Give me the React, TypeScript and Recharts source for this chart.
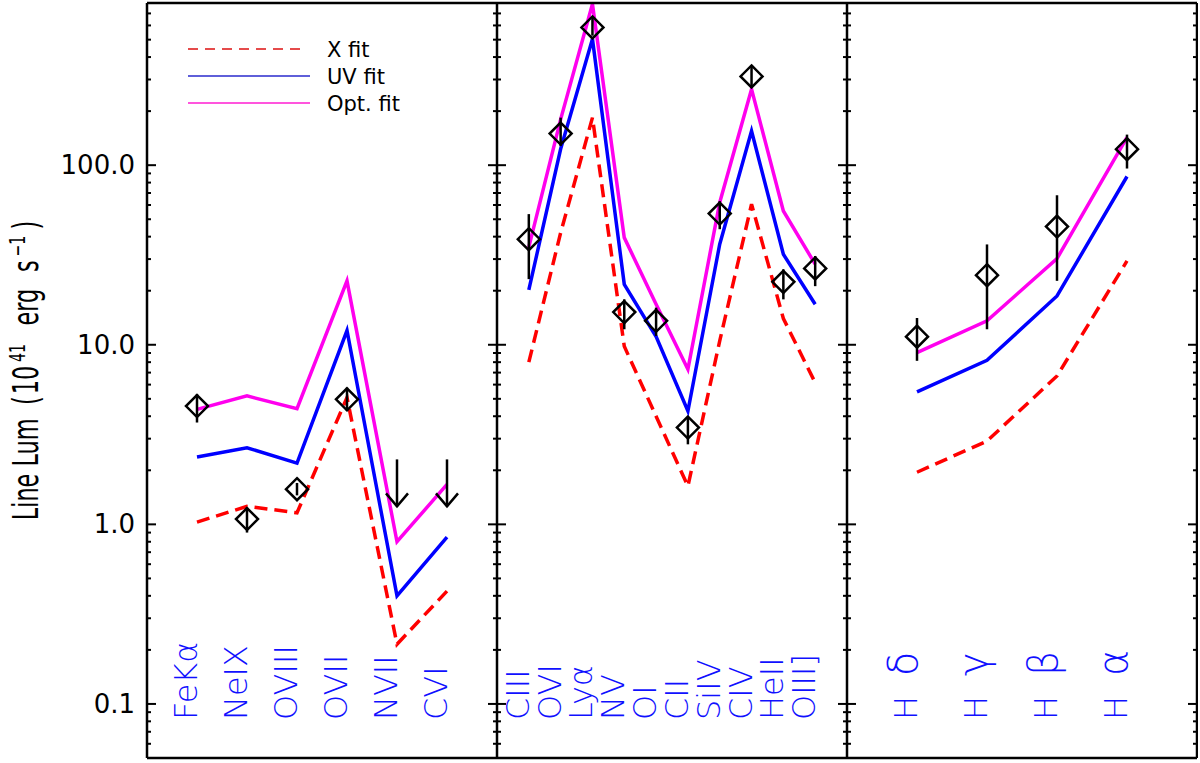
import React from 'react';
import { ComposedChart, Line, XAxis, YAxis, ErrorBar, Legend } from 'recharts';

// y axis (log), shared by the three panels
const yDomain = [0.05, 800];
const yTickValues = [
  0.06, 0.07, 0.08, 0.09,
  0.1, 0.2, 0.3, 0.4, 0.5, 0.6, 0.7, 0.8, 0.9,
  1, 2, 3, 4, 5, 6, 7, 8, 9,
  10, 20, 30, 40, 50, 60, 70, 80, 90,
  100, 200, 300, 400, 500, 600, 700,
];
const majorTicks = [0.1, 1, 10, 100];
const majorLabels = ['0.1', '1.0', '10.0', '100.0'];

// panel 1: X-ray lines
const xrayLabels = ['FeKα', 'NeIX', 'OVIII', 'OVII', 'NVII', 'CVI'];
const xrayXFit = [1.03, 1.26, 1.16, 5.08, 0.215, 0.425];
const xrayUVFit = [2.37, 2.67, 2.19, 12.0, 0.40, 0.85];
const xrayOptFit = [4.37, 5.19, 4.41, 22.7, 0.80, 1.67];
const xrayObs = [4.56, 1.07, 1.57, 4.97, 2.3, 2.3];
const xrayLo = [3.69, 0.9, 1.45, 4.28, 2.3, 2.3];
const xrayHi = [5.3, 1.24, 1.7, 5.77, 2.3, 2.3];
const xrayLimit = [false, false, false, false, true, true];

// panel 2: UV lines
const uvLabels = ['CIII', 'OVI', 'Lyα', 'NV', 'OI', 'CII', 'SiIV', 'CIV', 'HeII', 'OIII]'];
const uvXFit = [8.0, 42, 184, 9.8, 4.0, 1.63, 10.5, 60.6, 14, 6.15];
const uvUVFit = [20.2, 123, 504, 21.7, 11.1, 4.28, 36.3, 155, 31.9, 16.8];
const uvOptFit = [35, 180, 790, 39.5, 16.8, 7.3, 62, 265, 55.6, 28.1];
const uvObs = [38.7, 150, 585, 15.2, 13.6, 3.46, 53.8, 312, 22.4, 26.6];
const uvLo = [23.2, 128, 526, 12.2, 11.2, 2.79, 44, 270, 17.9, 21.2];
const uvHi = [53.4, 184, 670, 17.9, 16.1, 3.93, 63, 358, 26.3, 31.2];
const uvLimit = [false, false, false, false, false, false, false, false, false, false];

// panel 3: Balmer lines
const balmerLabels = ['H δ', 'H γ', 'H β', 'H α'];
const balmerXFit = [1.95, 2.91, 6.7, 29.3];
const balmerUVFit = [5.46, 8.2, 18.7, 86.5];
const balmerOptFit = [9.04, 13.6, 30.2, 142.7];
const balmerObs = [11.1, 24.4, 45.5, 122.8];
const balmerLo = [8.14, 12.2, 22.7, 95.8];
const balmerHi = [14.1, 36.2, 68, 148];
const balmerLimit = [false, false, false, false];

const RED = '#ff0000';
const BLUE = '#0000ff';
const MAGENTA = '#ff00ee';

function buildRows(names, xfit, uvfit, optfit, obs, lo, hi, limit) {
  return names.map((name, k) => ({
    i: k + 1,
    name,
    xfit: xfit[k],
    uvfit: uvfit[k],
    optfit: optfit[k],
    obs: obs[k],
    err: [obs[k] - lo[k], hi[k] - obs[k]],
    limit: limit[k],
  }));
}

const majorIndex = (v) => majorTicks.findIndex((m) => Math.abs(m - v) / m < 1e-6);

const makeYTick = (side, withLabel) => (props) => {
  const { x, y, payload } = props;
  const mi = majorIndex(payload.value);
  const len = mi >= 0 ? 9 : 4;
  const x2 = side === 'left' ? x + len : x - len;
  return (
    <g>
      <line x1={x} x2={x2} y1={y} y2={y} stroke="#000" strokeWidth={2} />
      {withLabel && mi >= 0 && (
        <text x={x - 12} y={y + 9} textAnchor="end" fontFamily="DejaVu Sans" fontSize={26} fill="#000">
          {majorLabels[mi]}
        </text>
      )}
    </g>
  );
};

const makeLabelTick = (names) => (props) => {
  const { x, y, payload } = props;
  const name = names[payload.value - 1];
  if (!name) return null;
  const parts = name.split(' ');
  return (
    <text
      transform={`translate(${x},${y - 38}) rotate(-90)`}
      textAnchor="start"
      fontFamily="DejaVu Sans"
      fontWeight={200}
      fontSize={32}
      fill="#1010ff"
    >
      {parts[0]}
      {parts[1] && (
        <tspan dx={20} fontSize={40}>
          {parts[1]}
        </tspan>
      )}
    </text>
  );
};

const ObsMarker = (props) => {
  const { cx, cy, payload } = props;
  if (cx == null || cy == null) return null;
  if (payload.limit) {
    return (
      <g stroke="#000" strokeWidth={2.5} fill="none">
        <line x1={cx} x2={cx} y1={cy} y2={cy + 47} />
        <polyline points={`${cx - 11},${cy + 34} ${cx},${cy + 47} ${cx + 11},${cy + 34}`} />
      </g>
    );
  }
  const r = 11;
  return (
    <polygon
      points={`${cx},${cy - r} ${cx + r},${cy} ${cx},${cy + r} ${cx - r},${cy}`}
      fill="none"
      stroke="#000"
      strokeWidth={2.5}
    />
  );
};

const renderTitle = (props) => {
  const vb = props.viewBox || { x: 0, y: 2, width: 147, height: 756 };
  const cx = vb.x + 38;
  const cy = vb.y + vb.height / 2 - 10;
  return (
    <text
      transform={`translate(${cx},${cy}) rotate(-90) scale(0.64,1)`}
      textAnchor="middle"
      fontFamily="DejaVu Sans"
      fontSize={35}
      fill="#000"
    >
      Line Lum
      <tspan dx={21}>(</tspan>
      <tspan dx={3}>10</tspan>
      <tspan dy={-13} dx={6} fontSize={22}>41</tspan>
      <tspan dy={13} dx={29}>erg</tspan>
      <tspan dx={26}>s</tspan>
      <tspan dy={-13} dx={6} fontSize={22}>−1</tspan>
      <tspan dy={13} dx={10}>)</tspan>
    </text>
  );
};

const LegendBox = () => (
  <svg width={230} height={90}>
    <line x1={8} x2={125} y1={14} y2={14} stroke="#dd1111" strokeWidth={1.4} strokeDasharray="10 7" />
    <line x1={8} x2={130} y1={41} y2={41} stroke="#2a2acc" strokeWidth={1.6} />
    <line x1={8} x2={130} y1={68} y2={68} stroke="#ff55dd" strokeWidth={2.2} />
    <g fontFamily="DejaVu Sans" fontSize={21} fill="#000" style={{ whiteSpace: 'pre' }}>
      <text x={147} y={22}>{'X  fit'}</text>
      <text x={147} y={49}>{'UV  fit'}</text>
      <text x={147} y={76}>{'Opt.  fit'}</text>
    </g>
  </svg>
);

// each panel: axes of size 1 so that recharts draws their frame lines
function Panel({ rows, labels, left, width, axisWidth, showLegend }) {
  const n = rows.length;
  return (
    <div style={{ position: 'absolute', left, top: 0, width, height: 763 }}>
      <ComposedChart width={width} height={763} data={rows} margin={{ top: 2, right: 0, bottom: 4, left: 0 }}>
        <XAxis
          xAxisId="b"
          type="number"
          dataKey="i"
          domain={[0, n + 1]}
          ticks={rows.map((r) => r.i)}
          interval={0}
          height={1}
          tickLine={false}
          tickSize={0}
          tickMargin={0}
          tick={makeLabelTick(labels)}
          axisLine={{ stroke: '#000', strokeWidth: 2.5 }}
        />
        <XAxis
          xAxisId="t"
          orientation="top"
          type="number"
          dataKey="i"
          domain={[0, n + 1]}
          height={1}
          tick={false}
          tickLine={false}
          axisLine={{ stroke: '#000', strokeWidth: 2.5 }}
        />
        <YAxis
          yAxisId="l"
          scale="log"
          type="number"
          domain={yDomain}
          allowDataOverflow
          ticks={yTickValues}
          interval={0}
          width={axisWidth}
          tickLine={false}
          tickSize={0}
          tickMargin={0}
          tick={makeYTick('left', axisWidth > 1)}
          axisLine={{ stroke: '#000', strokeWidth: 2.5 }}
          label={axisWidth > 1 ? renderTitle : undefined}
        />
        <YAxis
          yAxisId="r"
          orientation="right"
          scale="log"
          type="number"
          domain={yDomain}
          allowDataOverflow
          ticks={yTickValues}
          interval={0}
          width={1}
          tickLine={false}
          tickSize={0}
          tickMargin={0}
          tick={makeYTick('right', false)}
          axisLine={{ stroke: '#000', strokeWidth: 2.5 }}
        />
        {showLegend && (
          <Legend
            content={<LegendBox />}
            layout="horizontal"
            verticalAlign="middle"
            align="center"
            wrapperStyle={{ left: 180, top: 35, width: 230, height: 90 }}
          />
        )}
        <Line
          xAxisId="b"
          yAxisId="l"
          dataKey="xfit"
          name="X fit"
          stroke={RED}
          strokeWidth={3.5}
          strokeDasharray="13 7"
          dot={false}
          isAnimationActive={false}
        />
        <Line
          xAxisId="b"
          yAxisId="l"
          dataKey="uvfit"
          name="UV fit"
          stroke={BLUE}
          strokeWidth={3.5}
          dot={false}
          isAnimationActive={false}
        />
        <Line
          xAxisId="b"
          yAxisId="l"
          dataKey="optfit"
          name="Opt. fit"
          stroke={MAGENTA}
          strokeWidth={3.5}
          dot={false}
          isAnimationActive={false}
        />
        <Line
          xAxisId="b"
          yAxisId="l"
          dataKey="obs"
          stroke="none"
          legendType="none"
          dot={(p) => <ObsMarker key={`o${p.index}`} {...p} />}
          activeDot={false}
          isAnimationActive={false}
        >
          <ErrorBar dataKey="err" direction="y" width={0} stroke="#000" strokeWidth={2.5} />
        </Line>
      </ComposedChart>
    </div>
  );
}

export default function App() {
  const xrayRows = buildRows(xrayLabels, xrayXFit, xrayUVFit, xrayOptFit, xrayObs, xrayLo, xrayHi, xrayLimit);
  const uvRows = buildRows(uvLabels, uvXFit, uvUVFit, uvOptFit, uvObs, uvLo, uvHi, uvLimit);
  const balmerRows = buildRows(balmerLabels, balmerXFit, balmerUVFit, balmerOptFit, balmerObs, balmerLo, balmerHi, balmerLimit);

  return (
    <div style={{ position: 'fixed', left: 0, top: 0, width: 1200, height: 763, background: '#fff', overflow: 'hidden' }}>
      <Panel rows={xrayRows} labels={xrayLabels} left={0} width={498} axisWidth={147} showLegend />
      <Panel rows={uvRows} labels={uvLabels} left={496} width={352} axisWidth={1} />
      <Panel rows={balmerRows} labels={balmerLabels} left={846} width={352} axisWidth={1} />
    </div>
  );
}
